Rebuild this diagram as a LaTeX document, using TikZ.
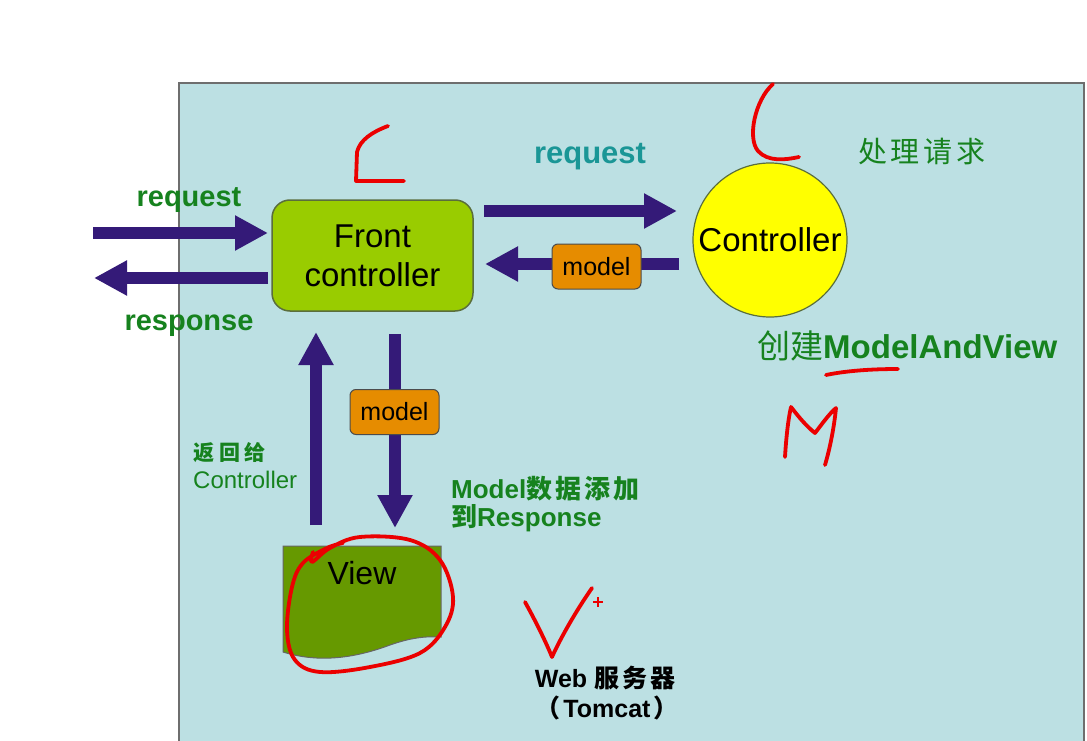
\documentclass[tikz,border=0pt]{standalone}
\usepackage{fontspec}
\setmainfont{Liberation Sans}
\newfontfamily\cjk{Noto Sans CJK SC}
\usetikzlibrary{arrows.meta}
\definecolor{panel}{RGB}{188,224,227}
\definecolor{panelb}{RGB}{110,110,110}
\definecolor{arrowc}{RGB}{52,26,120}
\definecolor{gtxt}{RGB}{22,130,30}
\definecolor{teal}{RGB}{26,150,150}
\definecolor{fcfill}{RGB}{153,204,0}
\definecolor{fcdraw}{RGB}{90,110,60}
\definecolor{orng}{RGB}{230,140,0}
\definecolor{viewc}{RGB}{102,153,0}
\definecolor{yell}{RGB}{255,255,0}
\definecolor{hand}{RGB}{235,0,0}
\tikzset{
  fat/.style={draw=arrowc, line width=12pt, -{Triangle[length=33pt,width=33pt]}},
  modelbox/.style={draw=black!70, fill=orng, line width=1pt, rounded corners=6pt,
    minimum width=89pt, minimum height=45pt, inner sep=0pt, font=\fontsize{25}{28}\selectfont},
  glabel/.style={text=gtxt, inner sep=0pt},
  handline/.style={draw=hand, line width=3.8pt, line cap=round, line join=round},
}
\begin{document}
\begin{tikzpicture}[x=1pt,y=-1pt]
\useasboundingbox (0,0) rectangle (1087,741);
\fill[white] (0,0) rectangle (1087,741);
\fill[panel] (179,83) rectangle (1084,745);
\draw[panelb, line width=2pt] (179,745) -- (179,83) -- (1084,83) -- (1084,745);

% main nodes
\node[draw=fcdraw, fill=fcfill, line width=1.5pt, rounded corners=18pt,
      minimum width=201pt, minimum height=111pt, align=center,
      font=\fontsize{33}{39}\selectfont] (fc) at (372.5,255.5) {Front\\controller};
\node[draw=fcdraw, fill=yell, circle, line width=1.2pt, minimum size=154pt, inner sep=0pt,
      font=\fontsize{33}{39}\selectfont] (ctrl) at (770,240) {Controller};

% view document shape
\draw[draw=black!60, fill=viewc, line width=1pt] (283,546) -- (441,546) -- (441,637)
  .. controls (425,636) and (410,638) .. (390,645)
  .. controls (350,660) and (315,662) .. (283,652) -- cycle;
\node[font=\fontsize{32}{36}\selectfont, inner sep=0pt] (view) at (362,573) {View};

% arrow endpoints
\coordinate (inS) at (93,233);   \coordinate (inE) at (268,233);
\coordinate (outS) at (268,278); \coordinate (outE) at (94,278);
\coordinate (rqS) at (484,211);  \coordinate (rqE) at (677,211);
\coordinate (mdS) at (679,264);  \coordinate (mdE) at (485,264);
\coordinate (upS) at (316,525);  \coordinate (upE) at (316,332);
\coordinate (dnS) at (395,334);  \coordinate (dnE) at (395,528);

\draw[fat] (inS) -- (inE);
\draw[fat] (outS) -- (outE);
\draw[fat] (rqS) -- (rqE);
\draw[fat] (mdS) -- (mdE);
\draw[fat] (upS) -- (upE);
\draw[fat] (dnS) -- (dnE);

\node[modelbox] (m1) at (596.5,266.5) {model};
\node[modelbox] (m2) at (394.5,412) {model};

% labels
\node[glabel, font=\fontsize{29}{32}\selectfont\bfseries] (lreq) at (189,200) {request};
\node[glabel, font=\fontsize{29}{32}\selectfont\bfseries] (lresp) at (189,326) {response};
\node[text=teal, inner sep=0pt, font=\fontsize{31}{34}\selectfont\bfseries] (treq) at (590,157) {request};
\node[glabel, font=\fontsize{29}{32}\selectfont\cjk] (proc) at (922,152) {处\kern4pt 理\kern4pt 请\kern4pt 求};
\node[glabel, anchor=west, font=\fontsize{33}{36}\selectfont] (mav) at (757,346) {{\cjk 创建}\textbf{ModelAndView}};
\node[glabel, anchor=west, font=\fontsize{21}{24}\selectfont] (ret1) at (193,453) {{\cjk\bfseries 返 回 给}};
\node[glabel, anchor=west, font=\fontsize{24}{26}\selectfont] (ret2) at (193,480) {Controller};
\node[glabel, anchor=west, font=\fontsize{26}{28}\selectfont\bfseries] (add1) at (451,489) {Model{\cjk 数\kern3pt 据\kern3pt 添\kern3pt 加}};
\node[glabel, anchor=west, font=\fontsize{26}{28}\selectfont\bfseries] (add2) at (451,518) {{\cjk 到}Response};
\node[inner sep=0pt, font=\fontsize{25}{27}\selectfont\bfseries] (web1) at (605,678) {Web {\cjk 服\kern3pt 务\kern3pt 器}};
\node[inner sep=0pt, font=\fontsize{25}{27}\selectfont\bfseries] (web2) at (607,708) {{\cjk （}\kern3pt Tomcat\kern3pt{\cjk ）}};

% handwritten red marks
\draw[handline] (388,126) .. controls (372,132) and (360,140) .. (357,152) -- (356,181) -- (404,181);
\draw[handline] (773,84) .. controls (755,100) and (747,138) .. (758,151)
  .. controls (768,162) and (785,160) .. (799,157);
\draw[handline] (826,375) .. controls (845,371) and (870,369) .. (898,369);
\draw[handline] (785,457) .. controls (786,440) and (788,420) .. (791,407)
  .. controls (798,416) and (806,426) .. (815,433)
  .. controls (822,424) and (829,414) .. (836,408)
  .. controls (834,428) and (830,448) .. (825,465);
\draw[handline] (525,602) .. controls (535,620) and (545,640) .. (552,657)
  .. controls (562,635) and (578,608) .. (592,588);
\draw[draw=hand, line width=1.5pt] (593,602) -- (603,602) (598,597) -- (598,607);
\draw[handline] plot[smooth, tension=0.6] coordinates {
  (313,552) (312,562) (330,548) (360,537) (410,540) (440,560) (453,597) (445,627)
  (420,653) (370,667) (320,672) (295,660) (287,630) (292,587) (303,563) (327,548) (343,543)};
\end{tikzpicture}
\end{document}
